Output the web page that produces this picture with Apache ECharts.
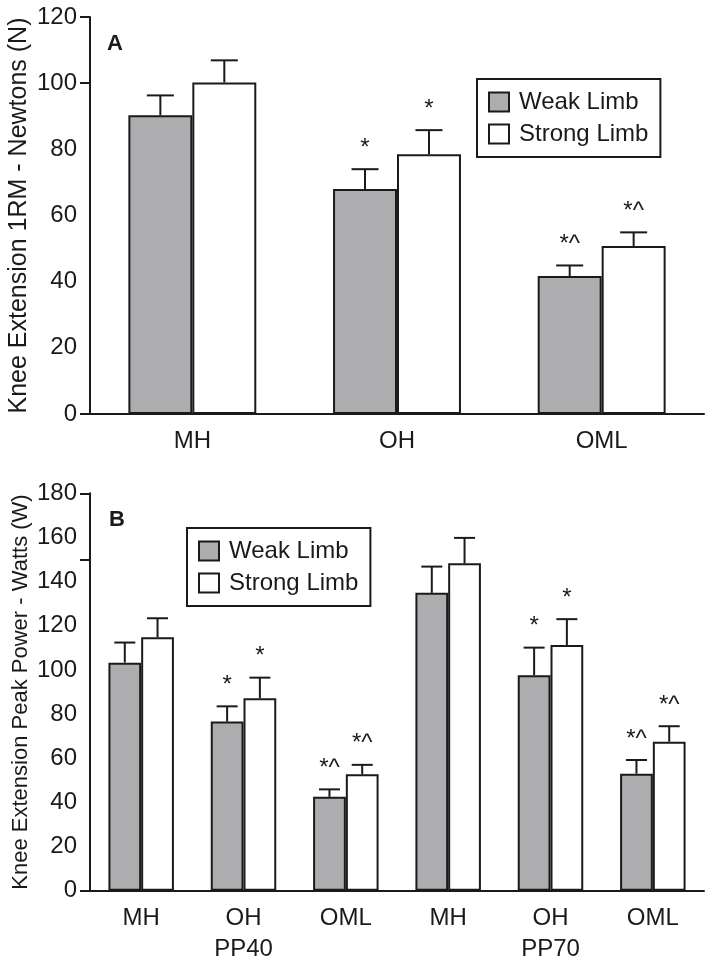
<!DOCTYPE html>
<html>
<head>
<meta charset="utf-8">
<script src="https://cdn.jsdelivr.net/npm/echarts@6/dist/echarts.min.js"></script>
<style>html,body{margin:0;padding:0;background:#fff}#c{width:714px;height:965px}</style>
</head>
<body>
<div id="c"></div>
<script>
// ---- Data ----
const categoriesA = ['MH', 'OH', 'OML'];
const weakA = [90.3, 68.0, 41.7];
const weakErrA = [6.0, 6.0, 3.2];
const strongA = [100.2, 78.5, 50.8];
const strongErrA = [6.7, 7.3, 4.1];
const weakNoteA = ['', '*', '*^'];
const strongNoteA = ['', '*', '*^'];

const categoriesB = ['MH', 'OH', 'OML', 'MH', 'OH', 'OML'];
const groupLabelsB = ['', 'PP40', '', '', 'PP70', ''];
const weakB = [103.3, 76.6, 42.5, 134.9, 97.6, 53.0];
const weakErrB = [9.1, 6.9, 3.4, 11.9, 12.5, 6.2];
const strongB = [114.8, 87.2, 52.7, 148.3, 111.3, 67.5];
const strongErrB = [8.6, 9.3, 4.3, 11.5, 11.7, 7.0];
const weakNoteB = ['', '*', '*^', '', '*', '*^'];
const strongNoteB = ['', '*', '*^', '', '*', '*^'];

const yTicksA = [0, 20, 40, 60, 80, 100, 120];
const yTicksB = [0, 20, 40, 60, 80, 100, 120, 140, 160, 180];

// ---- Style ----
const INK = '#1a1a1a';
const GREY = '#adadaf';
const FONT = 'Liberation Sans, Arial, Helvetica, sans-serif';
const gapA = 0.375, gapB = 0.36;

function errData(vals, errs, side) {
  return vals.map((v, i) => [i, v, v + errs[i], side]);
}
function makeRender(gap, capW, notes) {
  return function (params, api) {
    const ci = api.value(0);
    const side = api.value(3);
    const base = api.coord([ci, api.value(1)]);
    const top = api.coord([ci, api.value(2)]);
    const band = api.size([1, 0])[0];
    const bw = band * (1 - gap) / 2;
    const x = base[0] + (side ? bw / 2 : -bw / 2);
    const note = notes[side][params.dataIndex % notes[side].length];
    const children = [
      { type: 'line', shape: { x1: x, y1: base[1], x2: x, y2: top[1] }, style: { stroke: INK, lineWidth: 2 } },
      { type: 'line', shape: { x1: x - capW / 2, y1: top[1], x2: x + capW / 2, y2: top[1] }, style: { stroke: INK, lineWidth: 2 } }
    ];
    if (note) {
      children.push({ type: 'text', style: { text: note, x: x, y: top[1] - 21, align: 'center', verticalAlign: 'middle', fill: INK, font: '24px ' + FONT } });
    }
    return { type: 'group', children: children };
  };
}

const axisCommonX = {
  type: 'category',
  axisLine: { lineStyle: { color: INK, width: 2 } },
  axisTick: { length: 10, interval: 0, lineStyle: { color: INK, width: 2 } },
  axisLabel: { color: INK, fontSize: 24, fontFamily: FONT, margin: 12, interval: 0, lineHeight: 31 },
  splitLine: { show: false }
};
function yAxis(gridIndex, max, ticks, tickVals, name, nameSize) {
  return {
    type: 'value', gridIndex: gridIndex, min: 0, max: max, interval: 20,
    name: name, nameLocation: 'middle', nameGap: 58, nameMoveOverlap: false,
    nameTextStyle: { color: INK, fontSize: nameSize, fontFamily: FONT },
    axisLine: { show: true, lineStyle: { color: INK, width: 2 } },
    axisTick: { show: true, length: 10, customValues: tickVals, lineStyle: { color: INK, width: 2 } },
    axisLabel: { color: INK, fontSize: 24, fontFamily: FONT, margin: 13, customValues: ticks },
    splitLine: { show: false }
  };
}
function legend(left, top) {
  return {
    data: ['Weak Limb', 'Strong Limb'], orient: 'vertical', left: left, top: top,
    borderColor: INK, borderWidth: 2, padding: [11, 12, 11, 11],
    itemWidth: 20, itemHeight: 19, itemGap: 8, icon: 'rect',
    textStyle: { color: INK, fontSize: 24, fontFamily: FONT, lineHeight: 19, padding: [0, 0, 0, 5] },
    selectedMode: false
  };
}
const barStyle = (c) => ({ color: c, borderColor: INK, borderWidth: 2 });

const option = {
  animation: false,
  backgroundColor: '#fff',
  grid: [
    { left: 90, right: 10, top: 17, height: 397, containLabel: false, outerBoundsMode: 'none' },
    { left: 90, right: 10, top: 493.3, height: 397.4, containLabel: false, outerBoundsMode: 'none' }
  ],
  xAxis: [
    Object.assign({}, axisCommonX, { gridIndex: 0, data: categoriesA }),
    Object.assign({}, axisCommonX, {
      gridIndex: 1, data: categoriesB,
      axisLabel: Object.assign({}, axisCommonX.axisLabel, {
        formatter: (v, i) => groupLabelsB[i] ? v + '\n' + groupLabelsB[i] : v
      })
    })
  ],
  yAxis: [
    yAxis(0, 120, yTicksA, [0, 100, 120], 'Knee Extension 1RM - Newtons (N)', 25),
    yAxis(1, 180, yTicksB, [0, 150, 180], 'Knee Extension Peak Power - Watts (W)', 22)
  ],
  legend: [legend(477, 79), legend(187, 528)],
  graphic: [
    { type: 'text', left: 107, top: 33, style: { text: 'A', fill: INK, font: 'bold 22px ' + FONT } },
    { type: 'text', left: 109, top: 509, style: { text: 'B', fill: INK, font: 'bold 22px ' + FONT } }
  ],
  series: [
    { name: 'Weak Limb', type: 'bar', xAxisIndex: 0, yAxisIndex: 0, data: weakA, barGap: '0%', barCategoryGap: (gapA * 100) + '%', itemStyle: barStyle(GREY) },
    { name: 'Strong Limb', type: 'bar', xAxisIndex: 0, yAxisIndex: 0, data: strongA, barGap: '0%', barCategoryGap: (gapA * 100) + '%', itemStyle: barStyle('#ffffff') },
    { name: 'Weak Limb', type: 'bar', xAxisIndex: 1, yAxisIndex: 1, data: weakB, barGap: '0%', barCategoryGap: (gapB * 100) + '%', itemStyle: barStyle(GREY) },
    { name: 'Strong Limb', type: 'bar', xAxisIndex: 1, yAxisIndex: 1, data: strongB, barGap: '0%', barCategoryGap: (gapB * 100) + '%', itemStyle: barStyle('#ffffff') },
    { name: 'errA', type: 'custom', xAxisIndex: 0, yAxisIndex: 0, z: 5,
      data: errData(weakA, weakErrA, 0).concat(errData(strongA, strongErrA, 1)),
      renderItem: makeRender(gapA, 27, [weakNoteA, strongNoteA]) },
    { name: 'errB', type: 'custom', xAxisIndex: 1, yAxisIndex: 1, z: 5,
      data: errData(weakB, weakErrB, 0).concat(errData(strongB, strongErrB, 1)),
      renderItem: makeRender(gapB, 21, [weakNoteB, strongNoteB]) }
  ]
};
const chart = echarts.init(document.getElementById('c'), null, { renderer: 'canvas' });
chart.setOption(option);
</script>
</body>
</html>
